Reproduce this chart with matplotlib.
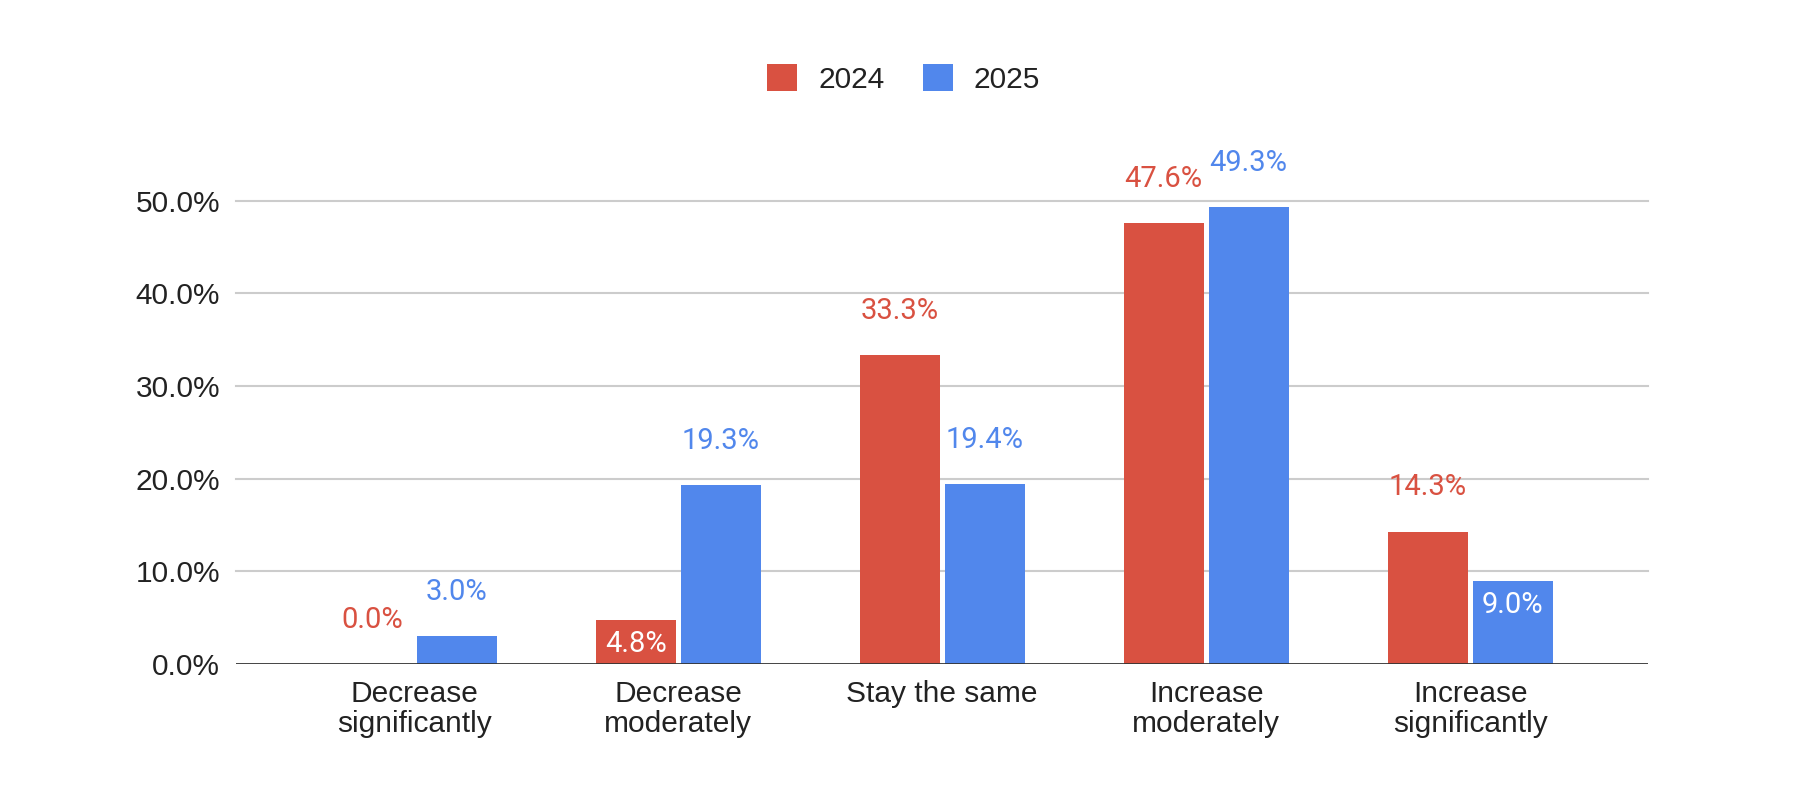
import matplotlib
matplotlib.use("Agg")
import matplotlib.pyplot as plt
import numpy as np

categories = ["Decrease\nsignificantly", "Decrease\nmoderately", "Stay the same",
              "Increase\nmoderately", "Increase\nsignificantly"]
values2024 = [0.0, 4.8, 33.3, 47.6, 14.3]
values2025 = [3.0, 19.3, 19.4, 49.3, 9.0]
yTicks = [0, 10, 20, 30, 40, 50]
# labels that sit inside the bar top (white) instead of above it
inside2024 = [False, True, False, False, False]
inside2025 = [False, False, False, False, True]

RED = "#D95141"
BLUE = "#5187EC"


def labelBars(ax, xs, vals, inside, color):
    for x, v, ins in zip(xs, vals, inside):
        if ins:
            ax.annotate(f"{v:.1f}%", (x, v), xytext=(0, -23.5), textcoords="offset points",
                        ha="center", va="baseline", color="white", fontsize=21,
                        family="Roboto")
        else:
            ax.annotate(f"{v:.1f}%", (x, v), xytext=(0, 26), textcoords="offset points",
                        ha="center", va="baseline", color=color, fontsize=21,
                        family="Roboto", annotation_clip=False)


def plotChart():
    fig = plt.figure(figsize=(18.04, 7.94), dpi=100)
    ax = fig.add_axes([0.1308, 0.1637, 0.7827, 0.5835])

    x = np.arange(len(categories))
    width = 0.303
    offset = 0.161

    b1 = ax.bar(x - offset, values2024, width, color=RED, label="2024", zorder=3)
    b2 = ax.bar(x + offset, values2025, width, color=BLUE, label="2025", zorder=3)

    labelBars(ax, x - offset, values2024, inside2024, RED)
    labelBars(ax, x + offset, values2025, inside2025, BLUE)

    ax.set_xlim(-0.676, 4.674)
    ax.set_ylim(0, 50)
    ax.set_yticks(yTicks)
    ax.set_yticklabels([f"{t:.1f}%" for t in yTicks])
    ax.set_xticks(x)
    ax.set_xticklabels(categories, linespacing=1.1)

    for t in yTicks[1:]:
        ax.axhline(t, color="#CCCCCC", linewidth=1.5, zorder=1, clip_on=False)
    ax.axhline(0, color="#333333", linewidth=2, zorder=4)

    for s in ax.spines.values():
        s.set_visible(False)
    ax.tick_params(axis="both", length=0, labelsize=21.5, labelcolor="#222222")
    ax.tick_params(axis="y", pad=11.5)
    ax.tick_params(axis="x", pad=11.5)
    for lbl in ax.get_xticklabels() + ax.get_yticklabels():
        lbl.set_family("Liberation Sans")

    leg = fig.legend(handles=[b1, b2], loc="center", bbox_to_anchor=(0.501, 0.9005), ncol=2,
                     frameon=False, handlelength=1.0, handleheight=1.0,
                     handletextpad=0.7, columnspacing=1.3,
                     prop={"family": "Liberation Sans", "size": 21.5})
    for txt in leg.get_texts():
        txt.set_color("#222222")

    fig.savefig("out.png", dpi=100, facecolor="white")


if __name__ == "__main__":
    plotChart()
